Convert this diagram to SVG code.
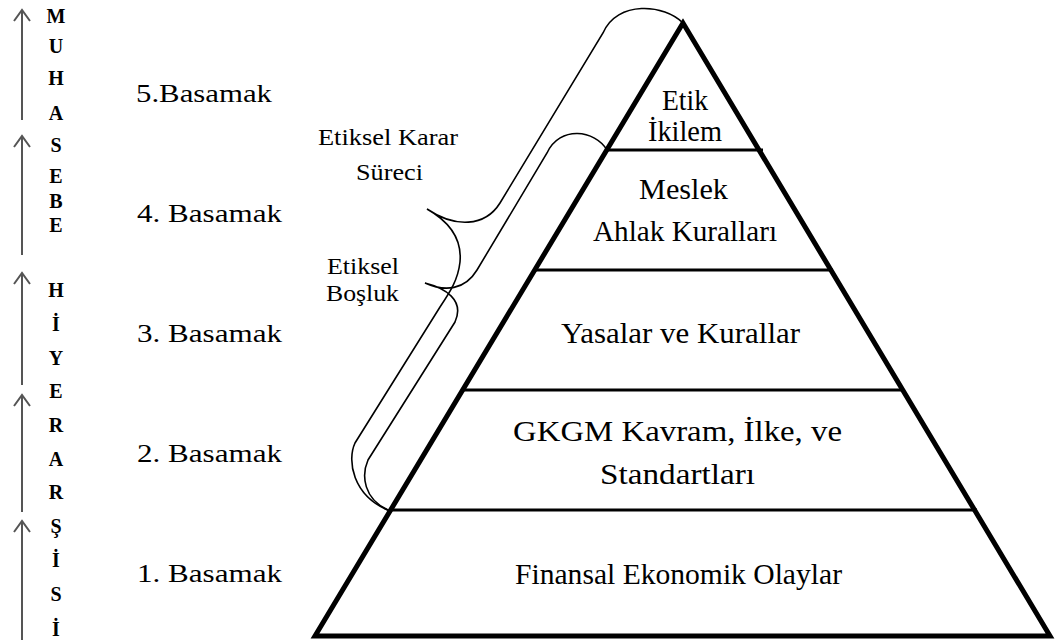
<svg xmlns="http://www.w3.org/2000/svg" width="1059" height="640" viewBox="0 0 1059 640">
<style>
.p{font-size:30px}
.l{font-size:26px}
.s{font-size:23px}
.v{font-size:20px;font-weight:bold}
.edge{fill:none;stroke:#000;stroke-width:5;stroke-linejoin:miter}
.div{stroke:#000;stroke-width:3}
.brace{fill:none;stroke:#000;stroke-width:1.6}
.arr{fill:none;stroke:#555;stroke-width:2}
</style>
<rect width="1059" height="640" fill="#fff"/>
<g id="pyramid">
<polygon class="edge" points="683,23 315,636 1050,636"/>
<line class="div" x1="607" y1="150" x2="763" y2="150"/>
<line class="div" x1="535" y1="270" x2="833" y2="270"/>
<line class="div" x1="463" y1="390" x2="904" y2="390"/>
<line class="div" x1="390" y1="510" x2="977" y2="510"/>
</g>
<g font-family="Liberation Serif" fill="#000">
<g id="level5"><text class="p" x="662" y="110" textLength="46" lengthAdjust="spacingAndGlyphs">Etik</text><text class="p" x="648" y="141" textLength="74" lengthAdjust="spacingAndGlyphs">İkilem</text></g>
<g id="level4"><text class="p" x="639" y="199" textLength="89" lengthAdjust="spacingAndGlyphs">Meslek</text><text class="p" x="593" y="241" textLength="184" lengthAdjust="spacingAndGlyphs">Ahlak Kuralları</text></g>
<g id="level3"><text class="p" x="561" y="343" textLength="239" lengthAdjust="spacingAndGlyphs">Yasalar ve Kurallar</text></g>
<g id="level2"><text class="p" x="513" y="441" textLength="329" lengthAdjust="spacingAndGlyphs">GKGM Kavram, İlke, ve</text><text class="p" x="600" y="484" textLength="155" lengthAdjust="spacingAndGlyphs">Standartları</text></g>
<g id="level1"><text class="p" x="515" y="584" textLength="327" lengthAdjust="spacingAndGlyphs">Finansal Ekonomik Olaylar</text></g>
<g id="steps">
<text class="l" x="136" y="102" textLength="136" lengthAdjust="spacingAndGlyphs">5.Basamak</text>
<text class="l" x="137" y="222" textLength="145" lengthAdjust="spacingAndGlyphs">4. Basamak</text>
<text class="l" x="137" y="342" textLength="145" lengthAdjust="spacingAndGlyphs">3. Basamak</text>
<text class="l" x="137" y="462" textLength="145" lengthAdjust="spacingAndGlyphs">2. Basamak</text>
<text class="l" x="137" y="582" textLength="145" lengthAdjust="spacingAndGlyphs">1. Basamak</text>
</g>
<g id="karar-label"><text class="s" x="318" y="145" textLength="140" lengthAdjust="spacingAndGlyphs">Etiksel Karar</text><text class="s" x="356" y="180" textLength="67" lengthAdjust="spacingAndGlyphs">Süreci</text></g>
<g id="bosluk-label"><text class="s" x="327" y="274" textLength="72" lengthAdjust="spacingAndGlyphs">Etiksel</text><text class="s" x="326" y="301" textLength="73" lengthAdjust="spacingAndGlyphs">Boşluk</text></g>
<g id="hierarchy" text-anchor="middle">
<text class="v" x="56" y="23">M</text>
<text class="v" x="56" y="53">U</text>
<text class="v" x="56" y="85">H</text>
<text class="v" x="56" y="120">A</text>
<text class="v" x="56" y="152">S</text>
<text class="v" x="56" y="183">E</text>
<text class="v" x="56" y="208">B</text>
<text class="v" x="56" y="232">E</text>
<text class="v" x="56" y="297">H</text>
<text class="v" x="56" y="331">İ</text>
<text class="v" x="56" y="365">Y</text>
<text class="v" x="56" y="398">E</text>
<text class="v" x="56" y="432">R</text>
<text class="v" x="56" y="466">A</text>
<text class="v" x="56" y="499">R</text>
<text class="v" x="56" y="533">Ş</text>
<text class="v" x="56" y="567">İ</text>
<text class="v" x="56" y="601">S</text>
<text class="v" x="56" y="636">İ</text>
</g>
</g>
<g id="connectors">
<path class="brace" d="M683,23 C665,4 617,0 603,33 L500,203 C485,227 455,228 427,209 C450,222 462,240 460,262 C458,280 450,292 440,307 L355,443 C347,460 352,496 390,511"/>
<path class="brace" d="M607,150 C595,130 560,125 547,153 L477,270 C465,290 445,292 425,283 C445,288 465,300 455,322 L368,460 C361,476 364,499 388,510"/>
</g>
<g id="arrows">
<path class="arr" d="M22,11 V120 M14,21 L22,10 L30,21"/>
<path class="arr" d="M22,137 V255 M14,147 L22,136 L30,147"/>
<path class="arr" d="M22,274 V385 M14,284 L22,273 L30,284"/>
<path class="arr" d="M22,396 V512 M14,406 L22,395 L30,406"/>
<path class="arr" d="M22,522 V640 M14,532 L22,521 L30,532"/>
</g>
</svg>
